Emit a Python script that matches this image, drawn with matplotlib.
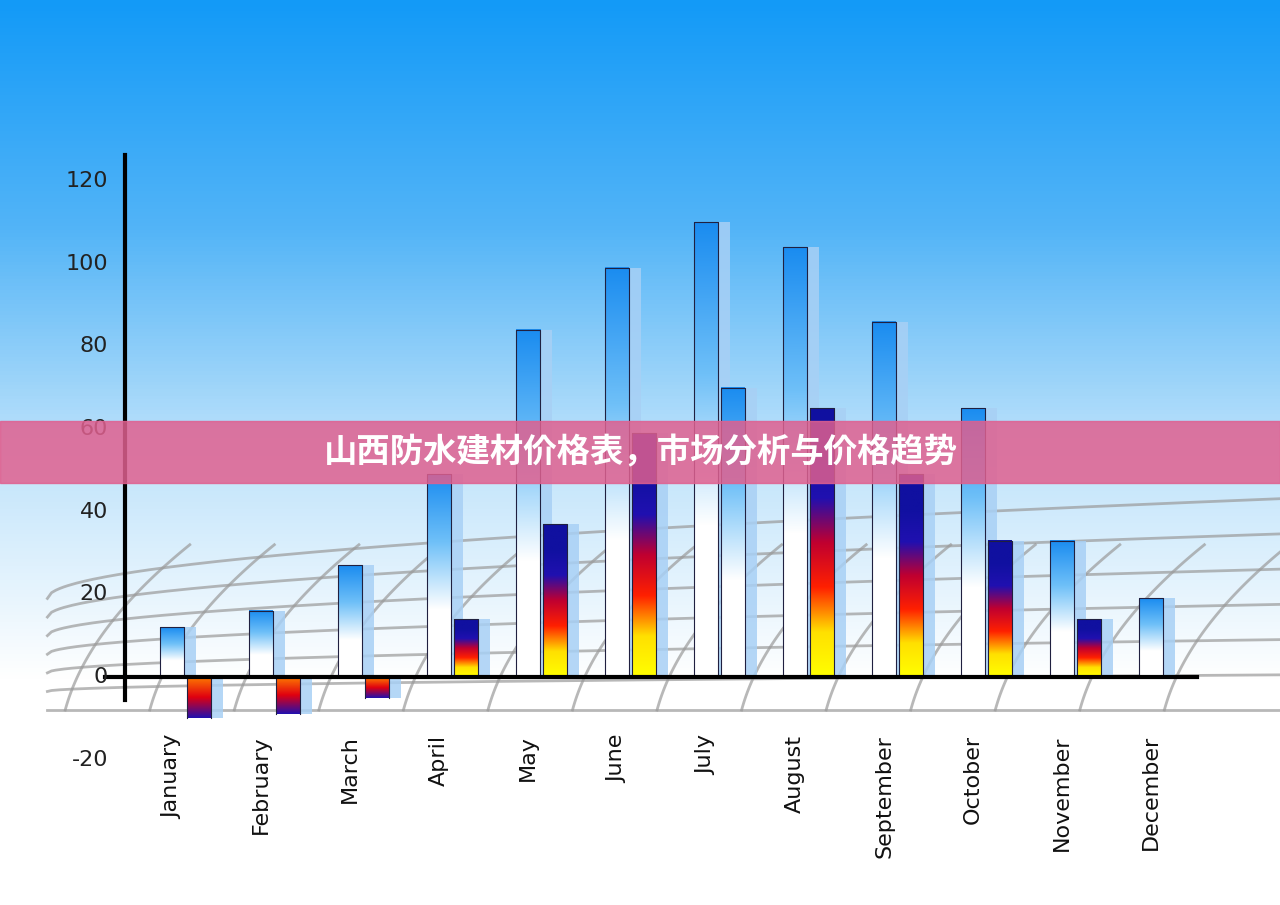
import matplotlib
matplotlib.use('Agg')
import matplotlib.pyplot as plt
import numpy as np
from matplotlib.colors import LinearSegmentedColormap

months = ['January', 'February', 'March', 'April', 'May', 'June', 'July',
          'August', 'September', 'October', 'November', 'December']
serie_a = [12, 16, 27, 49, 84, 99, 110, 104, 86, 65, 33, 19]
serie_b = [-10, -9, -5, 14, 37, 59, 70, 65, 49, 33, 14, None]
yticks = [-20, 0, 20, 40, 60, 80, 100, 120]
titulo = '山西防水建材价格表，市场分析与价格趋势'

fig = plt.figure(figsize=(12.8, 9.05), dpi=100)
ax = fig.add_axes([0, 0, 1, 1])
ppu_y = (677 - 181) / 120
ppu_x = 89
ax.set_xlim(-172 / ppu_x, (1280 - 172) / ppu_x)
ax.set_ylim(-(905 - 677) / ppu_y, 677 / ppu_y)
ax.axis('off')

# fondo degradado
bg = LinearSegmentedColormap.from_list('bg', ['#ffffff', '#ffffff', '#bfe3fb', '#52b4f7', '#139af7'])
grad = np.linspace(0, 1, 256).reshape(-1, 1)
ax.imshow(grad, cmap=bg, origin='lower', aspect='auto',
          extent=[*ax.get_xlim(), *ax.get_ylim()], zorder=0)

# rejilla curva decorativa
xs = np.linspace(-1.4, 12.5, 300)
for k in range(7):
    base = -8 + k * 4.5
    ax.plot(xs, base + 4 * k * np.sqrt(np.clip(xs + 1.4, 0, None)) / 3.7,
            color='#9a9a9a', lw=2, alpha=0.7, zorder=1)
for k in range(14):
    x0 = -1.2 + k * 0.95
    t = np.linspace(0, 1, 100)
    ax.plot(x0 + 0.5 * t + 0.9 * t**2, -8 + 40 * t, color='#9a9a9a', lw=2, alpha=0.7, zorder=1)

cmap_a = LinearSegmentedColormap.from_list('a', ['#ffffff', '#ffffff', '#6fc0f8', '#1a8cf0'])
cmap_b = LinearSegmentedColormap.from_list('b', ['#ffff00', '#ffe000', '#ff2000', '#c00030', '#2010b0', '#1010a0', '#1010a0'])
cmap_neg = LinearSegmentedColormap.from_list('n', ['#2010b0', '#e00010', '#ff8000'])
w = 24 / ppu_x
dx_b = 27 / ppu_x
sh = 12 / ppu_x


def barra(x, v, cmap):
    y0, y1 = (0, v) if v >= 0 else (v, 0)
    ax.bar(x + sh, v, width=w, align='edge', color='#a8d0f5', alpha=0.85, zorder=2)
    ax.imshow(grad, cmap=cmap, origin='lower', aspect='auto',
              extent=[x, x + w, y0, y1], zorder=3)
    ax.plot([x, x, x + w, x + w], [y0, y1, y1, y0], color='#202040', lw=0.8, zorder=4)


for i, m in enumerate(months):
    barra(i - w / 2, serie_a[i], cmap_a)
    v = serie_b[i]
    if v is None:
        continue
    if v < 0:
        barra(i - w / 2 + dx_b, v, cmap_neg)
    elif m == 'July':
        barra(i - w / 2 + dx_b, v, cmap_a)
    else:
        barra(i - w / 2 + dx_b, v, cmap_b)

# ejes
xa = (125 - 172) / ppu_x
ax.plot([xa, xa], [-(700 - 677) / ppu_y, (677 - 155) / ppu_y], color='black', lw=3, zorder=5)
ax.plot([(105 - 172) / ppu_x, (1197 - 172) / ppu_x], [0, 0], color='black', lw=3, zorder=5)
for t in yticks:
    ax.text((108 - 172) / ppu_x, t, str(t), ha='right', va='center', fontsize=16, color='#222222', zorder=6)
for i, m in enumerate(months):
    ax.text(i, -(735 - 677) / ppu_y, m, rotation=90, ha='center', va='top', fontsize=16, color='#111111', zorder=6)

# franja del titulo
ax.axhspan((677 - 483) / ppu_y, (677 - 421) / ppu_y, color='#e0608f', alpha=0.85, zorder=7)
ax.text((641 - 172) / ppu_x, (677 - 453) / ppu_y, titulo, ha='center', va='center',
        fontsize=24, fontweight='bold', color='white', zorder=8,
        fontfamily=['Noto Sans CJK SC', 'Noto Sans CJK JP', 'Noto Sans CJK TC', 'DejaVu Sans'])

fig.savefig('out.png', dpi=100)
